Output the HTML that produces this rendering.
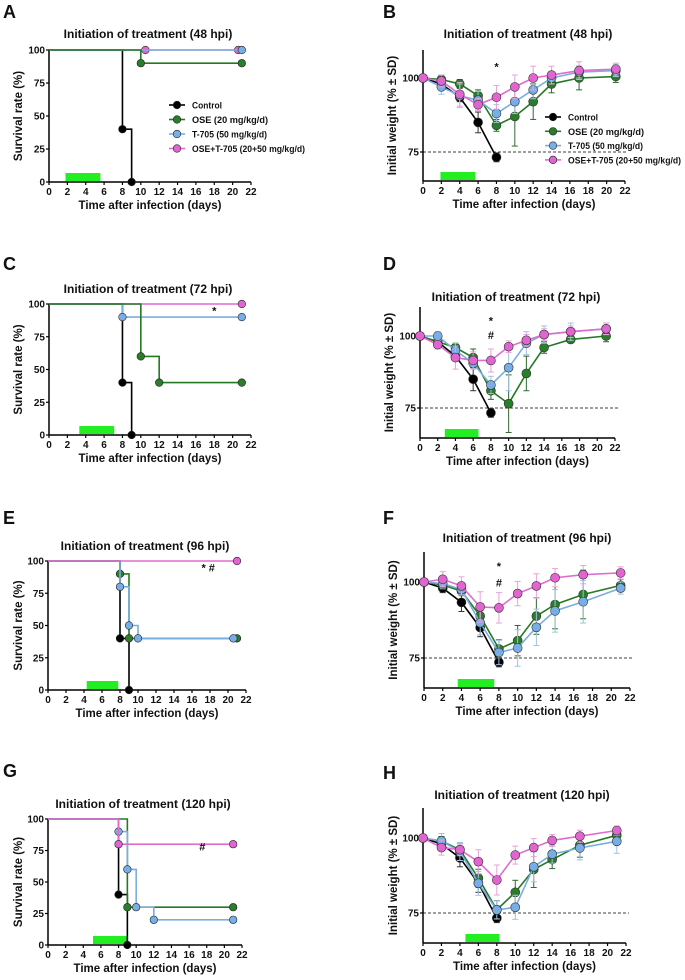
<!DOCTYPE html>
<html><head><meta charset="utf-8"><style>
body{margin:0;background:#fff;}
svg{display:block;font-family:"Liberation Sans",Arial,sans-serif;font-weight:bold;}
</style></head><body>
<svg id="fig" width="685" height="980" viewBox="0 0 685 980"></svg>
<script>
// ---------- DATA ----------
const xTicks = [0,2,4,6,8,10,12,14,16,18,20,22];
const survTicks = [0,25,50,75,100];
const weightTicks = [75,100];
const weightDays = [0,2,4,6,8,10,12,14,17,21];
const seriesNames = ["Control","OSE (20 mg/kg/d)","T-705 (50 mg/kg/d)","OSE+T-705 (20+50 mg/kg/d)"];
const legendWidths = [30,76,75,113];
const panelLetters = ["A","B","C","D","E","F","G","H"];
const panelTitles = ["Initiation of treatment (48 hpi)","Initiation of treatment (48 hpi)","Initiation of treatment (72 hpi)","Initiation of treatment (72 hpi)","Initiation of treatment (96 hpi)","Initiation of treatment (96 hpi)","Initiation of treatment (120 hpi)","Initiation of treatment (120 hpi)"];
const treatStart = [1.8,1.9,3.3,2.8,4.3,3.6,5.1,4.6];
const treatEnd = [5.6,5.7,7.1,6.6,7.8,7.5,9.0,8.3];

// Survival (A)
const A_ctrl_t=[0,8,9], A_ctrl_v=[100,40,0];
const A_ose_t=[0,10,21], A_ose_v=[100,90,90];
const A_t705_t=[0,21], A_t705_v=[100,100];
const A_combo_t=[0,10.5,20.6], A_combo_v=[100,100,100];
// Survival (C)
const C_ctrl_t=[0,8,9], C_ctrl_v=[100,40,0];
const C_ose_t=[0,10,12,21], C_ose_v=[100,60,40,40];
const C_t705_t=[0,8,21], C_t705_v=[100,90,90];
const C_combo_t=[0,21], C_combo_v=[100,100];
// Survival (E)
const E_ctrl_t=[0,8,9], E_ctrl_v=[100,40,0];
const E_ose_t=[0,8,9,21], E_ose_v=[100,90,40,40];
const E_t705_t=[0,8,9,10,20.6], E_t705_v=[100,80,50,40,40];
const E_combo_t=[0,21], E_combo_v=[100,100];
// Survival (G)
const G_ctrl_t=[0,8,9], G_ctrl_v=[100,40,0];
const G_ose_t=[0,9,21], G_ose_v=[100,30,30];
const G_t705_t=[0,8,9,10,12,21], G_t705_v=[100,90,60,30,20,20];
const G_combo_t=[0,8,21], G_combo_v=[100,80,80];

// Weights (B)
const B_ctrl=[100,98,93.5,85,73.2], B_ctrl_sd=[0,1.5,1.5,3.5,1.5];
const B_ose=[100,99.5,98,94,84,87,92,98,100,100.5], B_ose_sd=[0,1.5,1.5,2,2,10,6,3,4,2];
const B_t705=[100,97,94,92.5,88,92,96,100,102,102.5], B_t705_sd=[0,2.5,4,3,3,4,3,2,2,2];
const B_combo=[100,99,94.5,91,93.5,97,100,101,102.5,103], B_combo_sd=[0,2,4,2,4,4,4,3,3,2];
// Weights (D)
const D_ctrl=[100,98,93,85,73.3], D_ctrl_sd=[0,1,1.5,4,1.5];
const D_ose=[100,98,96,92.5,81,76.5,87,96,98.8,100], D_ose_sd=[0,1,1.5,3,3,10,6,2,1,2];
const D_t705=[100,100,95,90.5,83,89,97.5,100.5,101.5,102.5], D_t705_sd=[0,1.5,2.5,2,3,8,4,3,3,2];
const D_combo=[100,97,92.5,91.5,91.5,96.3,98.5,100.5,101.5,102.5], D_combo_sd=[0,1.5,4,3,4,2,2,2,2,2];
// Weights (F)
const F_ctrl=[100,98,93.3,85,73.6], F_ctrl_sd=[0,1.5,3,3,1.5];
const F_ose=[100,99,97,88.8,78,80.7,88.8,92.6,95.9,98.9], F_ose_sd=[0,1.5,1.5,3,3,5,6,8,8,2];
const F_t705=[100,99.5,97.5,86.6,76.8,78.3,85.1,90.5,93.5,98], F_t705_sd=[0,1.5,1.5,4,4,6,6,7,7,2];
const F_combo=[100,100.9,98.7,91.8,91.5,96.2,98.7,101.4,102.4,103], F_combo_sd=[0,2.5,3,5,5,4,4,3,3,2];
// Weights (H)
const H_ctrl=[100,98,93.4,84.9,73.3], H_ctrl_sd=[0,1.5,3,3,1.5];
const H_ose=[100,99,96.1,86.6,76.1,81.9,89.5,92.8,97.6,100.9], H_ose_sd=[0,1.5,2,3,3,4,6,3,4,2];
const H_t705=[100,99,95.5,84.9,76,76.9,90.4,94.6,96.7,98.9], H_t705_sd=[0,2.5,3,4,3,4,5,3,4,4];
const H_combo=[100,96.8,96.1,92.1,86,94.3,96.8,99.2,100.6,102.5], H_combo_sd=[0,2.5,2,4,5,3,3,2,2,1.5];

// ---------- STYLE ----------
const lineCol=["#000000","#237a23","#7aaee0","#e06ccf"];
const fillCol=["#000000","#2a7d2a","#78aee6","#e264d0"];
const errCol=["#333333","#2f6a2f","#9ec3e0","#e6a2da"];
const NS="http://www.w3.org/2000/svg";
const svg=document.getElementById("fig");
function mk(tag,attrs,parent){const e=document.createElementNS(NS,tag);for(const k in attrs)e.setAttribute(k,attrs[k]);(parent||svg).appendChild(e);return e;}
function txt(x,y,s,size,anchor,parent,rot){const e=mk("text",{x:x,y:y,"font-size":size,"text-anchor":anchor||"middle",fill:"#111"},parent);if(rot)e.setAttribute("transform","rotate(-90 "+x+" "+y+")");e.textContent=s;return e;}

function panelFrame(p,g,isSurv){
  const sx=d=>p.x0+(p.x1-p.x0)*d/22;
  const sy=v=>p.yA+(p.yB-p.yA)*(v-p.vA)/(p.vB-p.vA);
  const L=txt(p.lx,p.ly,panelLetters[p.i],18,"start",g);
  
  
  const T=txt(p.tx,p.ty,panelTitles[p.i],12,"middle",g);
  
  
  const ax=mk("g",{},g);
  
  
  mk("line",{x1:p.x0,y1:p.top,x2:p.x0,y2:p.bot,stroke:"#000","stroke-width":1.5},ax);
  mk("line",{x1:p.x0,y1:p.bot,x2:p.x1,y2:p.bot,stroke:"#000","stroke-width":1.5},ax);
  xTicks.forEach(t=>{mk("line",{x1:sx(t),y1:p.bot,x2:sx(t),y2:p.bot+3,stroke:"#000","stroke-width":1.2},ax);
    const e=txt(sx(t),p.bot+13,String(t),10,"middle",ax);
    
    });
  (isSurv?survTicks:weightTicks).forEach(t=>{mk("line",{x1:p.x0-3,y1:sy(t),x2:p.x0,y2:sy(t),stroke:"#000","stroke-width":1.2},ax);
    const e=txt(p.x0-4,sy(t)+3.5,String(t),10,"end",ax);
    
    });
  const xl=txt((p.x0+p.x1)/2,p.bot+27,"Time after infection (days)",11.5,"middle",ax);
  
  
  const yl=txt(p.ylx,(p.top+p.bot)/2,isSurv?"Survival rate (%)":"Initial weight (% \u00b1 SD)",11.5,"middle",ax,true);
  
  
  const bar=mk("rect",{x:sx(treatStart[p.i]),y:p.bot-9,width:sx(treatEnd[p.i])-sx(treatStart[p.i]),height:8,fill:"#22ee22"},g);
  
  
  return {sx,sy};
}

function survPanel(p,series,order){
  const g=mk("g",{});
  
  
  const {sx,sy}=panelFrame(p,g,true);
  order.forEach(k=>{
    const [t,v]=series[k];
    let d="M"+sx(t[0])+","+sy(v[0]);
    for(let j=1;j<t.length;j++){d+=" H"+sx(t[j])+" V"+sy(v[j]);}
    const sg=mk("g",{},g);
    
    
    mk("path",{d:d,fill:"none",stroke:lineCol[k],"stroke-width":1.6},sg);
    for(let j=1;j<t.length;j++){
      const c=mk("circle",{cx:sx(t[j]),cy:sy(v[j]),r:3.8,fill:fillCol[k],stroke:"#222","stroke-width":0.6},sg);
      
      
    }
  });
  return {g,sx,sy};
}

function weightPanel(p,series,sds){
  const g=mk("g",{});
  
  
  const {sx,sy}=panelFrame(p,g,false);
  const dl=mk("line",{x1:p.x0,y1:sy(75),x2:p.x1+3,y2:sy(75),stroke:"#000","stroke-width":0.8,"stroke-dasharray":"3,2"},g);
  
  
  [0,1,2,3].forEach(k=>{
    const vals=series[k],sd=sds[k];
    const sg=mk("g",{},g);
    
    
    vals.forEach((v,j)=>{ if(sd[j]>0){const x=sx(weightDays[j]);
      mk("line",{x1:x,y1:sy(v-sd[j]),x2:x,y2:sy(v+sd[j]),stroke:errCol[k],"stroke-width":1},sg);
      mk("line",{x1:x-3,y1:sy(v-sd[j]),x2:x+3,y2:sy(v-sd[j]),stroke:errCol[k],"stroke-width":1},sg);
      mk("line",{x1:x-3,y1:sy(v+sd[j]),x2:x+3,y2:sy(v+sd[j]),stroke:errCol[k],"stroke-width":1},sg);}});
    mk("polyline",{points:vals.map((v,j)=>sx(weightDays[j])+","+sy(v)).join(" "),fill:"none",stroke:lineCol[k],"stroke-width":1.6},sg);
    vals.forEach((v,j)=>{const c=mk("circle",{cx:sx(weightDays[j]),cy:sy(v),r:4.5,fill:fillCol[k],stroke:"#333","stroke-width":0.6},sg);
      
      });
  });
  return {g,sx,sy};
}

function legend(x,y,dy,parent){
  const lg=mk("g",{},parent);
  
  
  seriesNames.forEach((n,k)=>{
    const yy=y+k*dy;
    const e=mk("g",{},lg);
    
    
    mk("line",{x1:x-8,y1:yy,x2:x+8,y2:yy,stroke:lineCol[k],"stroke-width":1.6},e);
    mk("circle",{cx:x,cy:yy,r:3.8,fill:fillCol[k],stroke:"#222","stroke-width":0.6},e);
    const t=txt(x+15,yy+3.5,n,9.5,"start",e);
    t.setAttribute("textLength",legendWidths[k]);
    t.setAttribute("lengthAdjust","spacingAndGlyphs");
  });
}
function mark(s,x,y,parent){const e=txt(x,y,s,11,"middle",parent);}

// ---------- PANELS ----------
const pA={i:0,x0:49,x1:251,top:50,bot:182,yA:50,vA:100,yB:182,vB:0,lx:3,ly:18,tx:148,ty:38,ylx:22};
const a=survPanel(pA,[[A_ctrl_t,A_ctrl_v],[A_ose_t,A_ose_v],[A_t705_t,A_t705_v],[A_combo_t,A_combo_v]],[0,3,2,1]);
legend(177,105,14.5,a.g);

const pB={i:1,x0:423,x1:625,top:50,bot:181,yA:78,vA:100,yB:152,vB:75,lx:383,ly:18,tx:528,ty:38,ylx:396};
const b=weightPanel(pB,[B_ctrl,B_ose,B_t705,B_combo],[B_ctrl_sd,B_ose_sd,B_t705_sd,B_combo_sd]);
legend(553,117,14.3,b.g);
mark("*",b.sx(8),b.sy(102.5),b.g);

const pC={i:2,x0:49,x1:251,top:304,bot:435,yA:304,vA:100,yB:435,vB:0,lx:3,ly:270,tx:148,ty:293,ylx:22};
const c=survPanel(pC,[[C_ctrl_t,C_ctrl_v],[C_ose_t,C_ose_v],[C_t705_t,C_t705_v],[C_combo_t,C_combo_v]],[0,3,2,1]);
mark("*",c.sx(18),c.sy(92),c.g);

const pD={i:3,x0:420,x1:615,top:307,bot:438,yA:336,vA:100,yB:408,vB:75,lx:383,ly:270,tx:516,ty:301,ylx:393};
const d=weightPanel(pD,[D_ctrl,D_ose,D_t705,D_combo],[D_ctrl_sd,D_ose_sd,D_t705_sd,D_combo_sd]);
mark("*",d.sx(8),d.sy(104),d.g);mark("#",d.sx(8),d.sy(99),d.g);

const pE={i:4,x0:48,x1:246,top:561,bot:690,yA:561,vA:100,yB:690,vB:0,lx:3,ly:524,tx:145,ty:550,ylx:22};
const e=survPanel(pE,[[E_ctrl_t,E_ctrl_v],[E_ose_t,E_ose_v],[E_t705_t,E_t705_v],[E_combo_t,E_combo_v]],[0,1,2,3]);
mark("* #",e.sx(17.8),e.sy(92),e.g);

const pF={i:5,x0:424,x1:630,top:552,bot:688,yA:582,vA:100,yB:658,vB:75,lx:383,ly:524,tx:527,ty:542,ylx:397};
const f=weightPanel(pF,[F_ctrl,F_ose,F_t705,F_combo],[F_ctrl_sd,F_ose_sd,F_t705_sd,F_combo_sd]);
mark("*",f.sx(8),f.sy(104),f.g);mark("#",f.sx(8),f.sy(98.5),f.g);

const pG={i:6,x0:48,x1:242,top:819,bot:945,yA:819,vA:100,yB:945,vB:0,lx:3,ly:777,tx:143,ty:808,ylx:22};
const gg=survPanel(pG,[[G_ctrl_t,G_ctrl_v],[G_ose_t,G_ose_v],[G_t705_t,G_t705_v],[G_combo_t,G_combo_v]],[0,1,2,3]);
mark("#",gg.sx(17.5),gg.sy(75),gg.g);

const pH={i:7,x0:423,x1:626,top:808,bot:943,yA:838,vA:100,yB:913,vB:75,lx:383,ly:779,tx:522,ty:799,ylx:397};
weightPanel(pH,[H_ctrl,H_ose,H_t705,H_combo],[H_ctrl_sd,H_ose_sd,H_t705_sd,H_combo_sd]);
</script>
</body></html>
